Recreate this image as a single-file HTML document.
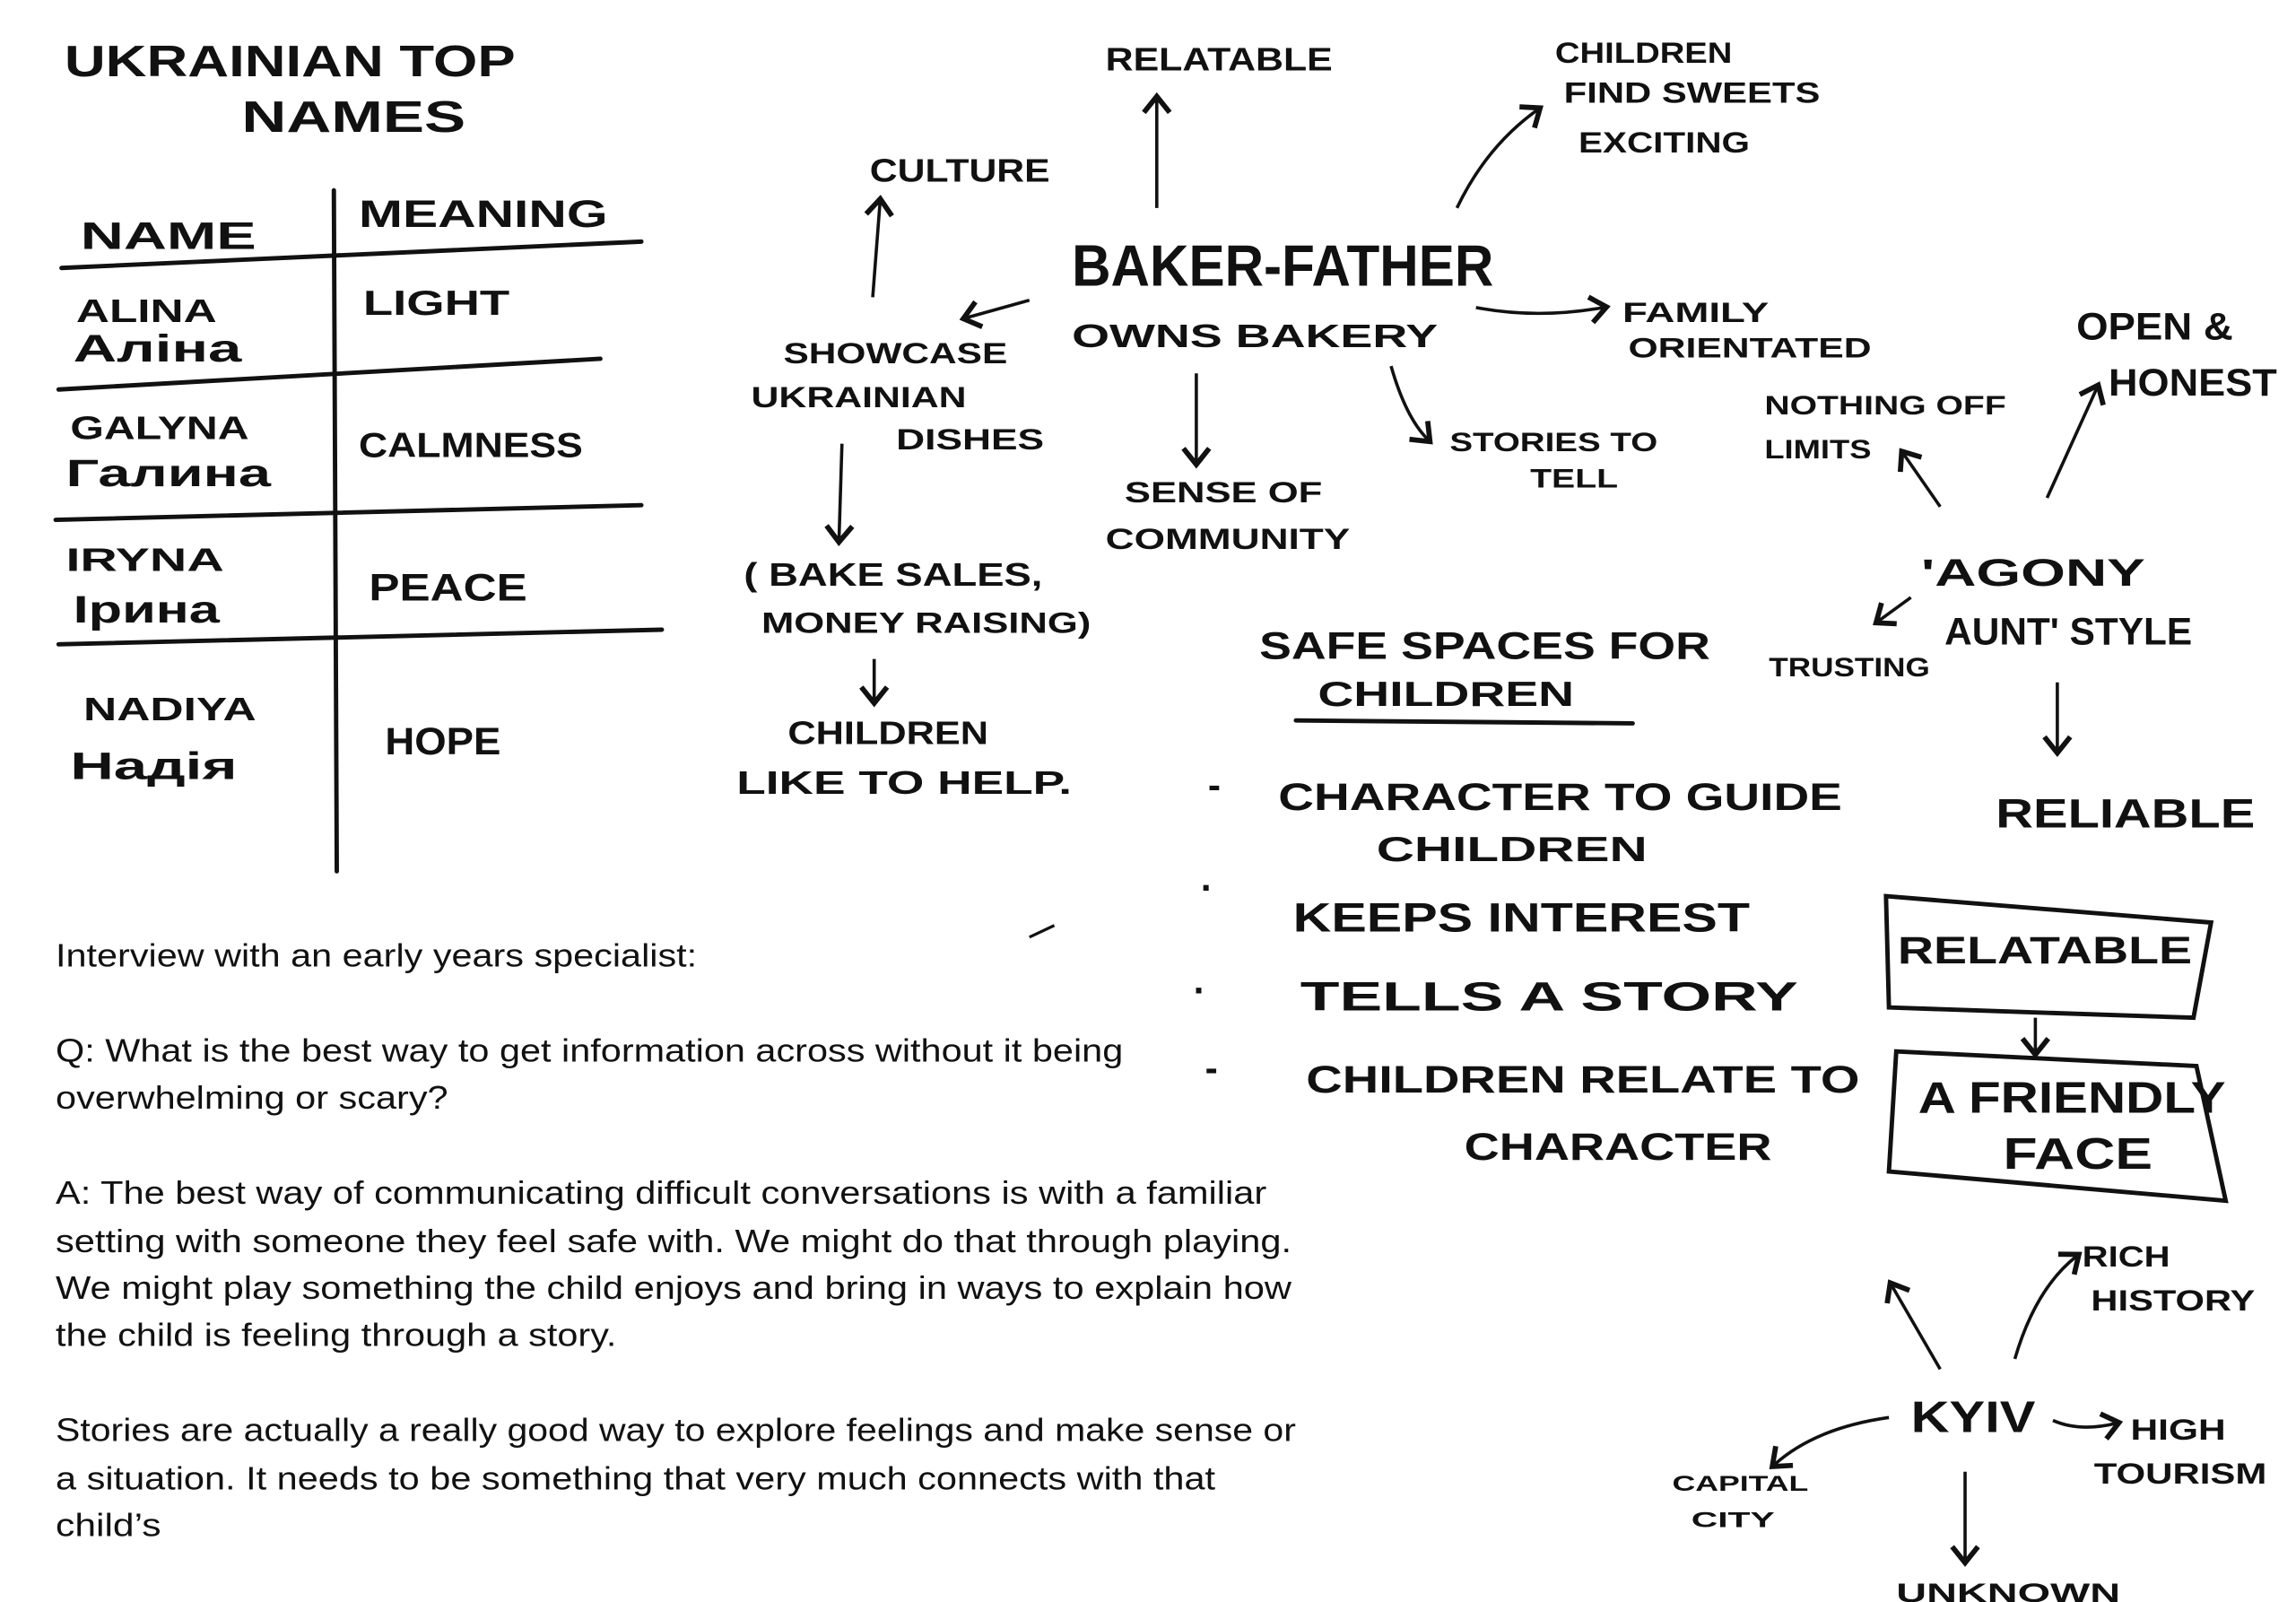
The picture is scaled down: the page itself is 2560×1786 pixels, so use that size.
<!DOCTYPE html>
<html><head><meta charset="utf-8"><style>
html,body{margin:0;padding:0;background:#fff;}
svg{display:block}
.h{font-family:"Liberation Sans","Noto Sans CJK SC",sans-serif;fill:#111;font-weight:bold}
.t{font-family:"Liberation Sans",sans-serif;fill:#111;font-size:22px}
</style></head><body>
<svg width="2560" height="1786" viewBox="0 0 1568 1094" preserveAspectRatio="none" xmlns="http://www.w3.org/2000/svg">
<defs><marker id="a" markerWidth="10" markerHeight="10" refX="5" refY="5" orient="auto"><path d="M1,1 L6,5 L1,9" fill="none" stroke="#111" stroke-width="1.6"/></marker></defs>
<rect width="1568" height="1094" fill="#fff"/>
<g stroke="#111" stroke-width="3" fill="none" stroke-linecap="round">
<line x1="42" y1="183" x2="438" y2="165"/>
<line x1="228" y1="130" x2="230" y2="595"/>
<line x1="40" y1="266" x2="410" y2="245"/>
<line x1="38" y1="355" x2="438" y2="345"/>
<line x1="40" y1="440" x2="452" y2="430"/>
<path d="M1288,612 L1510,630 L1498,695 L1290,688 Z"/>
<path d="M1295,718 L1500,728 L1520,820 L1290,800 Z"/>
<line x1="885" y1="492" x2="1115" y2="494"/>
</g>
<g stroke="#111" stroke-width="2.2" fill="none" marker-end="url(#a)">
<line x1="790" y1="142" x2="790" y2="68"/>
<line x1="596" y1="203" x2="601" y2="138"/>
<path d="M995,142 Q1015,100 1050,75"/>
<line x1="703" y1="205" x2="660" y2="217"/>
<path d="M1008,210 Q1050,218 1095,210"/>
<line x1="817" y1="255" x2="817" y2="315"/>
<path d="M950,250 Q960,285 975,300"/>
<line x1="575" y1="303" x2="573" y2="368"/>
<line x1="597" y1="450" x2="597" y2="478"/>
<line x1="1325" y1="346" x2="1300" y2="310"/>
<line x1="1398" y1="340" x2="1432" y2="265"/>
<line x1="1305" y1="408" x2="1283" y2="424"/>
<line x1="1405" y1="466" x2="1405" y2="512"/>
<line x1="1390" y1="695" x2="1390" y2="718"/>
<line x1="1325" y1="935" x2="1292" y2="878"/>
<path d="M1376,928 Q1390,880 1418,858"/>
<path d="M1290,968 Q1240,975 1212,1000"/>
<path d="M1402,970 Q1420,978 1445,972"/>
<line x1="1342" y1="1005" x2="1342" y2="1065"/>
</g>
<g stroke="#111" stroke-width="2"><line x1="703" y1="640" x2="720" y2="632"/></g>
<g class="h" lengthAdjust="spacingAndGlyphs">
<text x="44" y="52" font-size="30" textLength="308" lengthAdjust="spacingAndGlyphs">UKRAINIAN TOP</text>
<text x="165" y="90" font-size="30" textLength="153" lengthAdjust="spacingAndGlyphs">NAMES</text>
<text x="55" y="170" font-size="26" textLength="120" lengthAdjust="spacingAndGlyphs">NAME</text>
<text x="245" y="155" font-size="26" textLength="170" lengthAdjust="spacingAndGlyphs">MEANING</text>
<text x="52" y="220" font-size="22" textLength="96" lengthAdjust="spacingAndGlyphs">ALINA</text>
<text x="50" y="247" font-size="26" textLength="115" lengthAdjust="spacingAndGlyphs">Аліна</text>
<text x="248" y="215" font-size="24" textLength="100" lengthAdjust="spacingAndGlyphs">LIGHT</text>
<text x="48" y="300" font-size="22" textLength="122" lengthAdjust="spacingAndGlyphs">GALYNA</text>
<text x="45" y="332" font-size="26" textLength="140" lengthAdjust="spacingAndGlyphs">Галина</text>
<text x="245" y="312" font-size="24" textLength="153" lengthAdjust="spacingAndGlyphs">CALMNESS</text>
<text x="45" y="390" font-size="22" textLength="108" lengthAdjust="spacingAndGlyphs">IRYNA</text>
<text x="50" y="425" font-size="26" textLength="100" lengthAdjust="spacingAndGlyphs">Ірина</text>
<text x="252" y="410" font-size="26" textLength="108" lengthAdjust="spacingAndGlyphs">PEACE</text>
<text x="57" y="492" font-size="22" textLength="118" lengthAdjust="spacingAndGlyphs">NADIYA</text>
<text x="48" y="532" font-size="26" textLength="114" lengthAdjust="spacingAndGlyphs">Надія</text>
<text x="263" y="515" font-size="26" textLength="79" lengthAdjust="spacingAndGlyphs">HOPE</text>
<text x="755" y="48" font-size="22" textLength="155" lengthAdjust="spacingAndGlyphs">RELATABLE</text>
<text x="1062" y="43" font-size="20" textLength="121" lengthAdjust="spacingAndGlyphs">CHILDREN</text>
<text x="1068" y="70" font-size="20" textLength="175" lengthAdjust="spacingAndGlyphs">FIND SWEETS</text>
<text x="1078" y="104" font-size="20" textLength="117" lengthAdjust="spacingAndGlyphs">EXCITING</text>
<text x="594" y="124" font-size="22" textLength="123" lengthAdjust="spacingAndGlyphs">CULTURE</text>
<text x="732" y="195" font-size="40" textLength="288" lengthAdjust="spacingAndGlyphs">BAKER-FATHER</text>
<text x="732" y="237" font-size="22" textLength="250" lengthAdjust="spacingAndGlyphs">OWNS  BAKERY</text>
<text x="1108" y="220" font-size="19" textLength="100" lengthAdjust="spacingAndGlyphs">FAMILY</text>
<text x="1112" y="244" font-size="19" textLength="166" lengthAdjust="spacingAndGlyphs">ORIENTATED</text>
<text x="535" y="248" font-size="20" textLength="153" lengthAdjust="spacingAndGlyphs">SHOWCASE</text>
<text x="513" y="278" font-size="20" textLength="147" lengthAdjust="spacingAndGlyphs">UKRAINIAN</text>
<text x="612" y="307" font-size="20" textLength="101" lengthAdjust="spacingAndGlyphs">DISHES</text>
<text x="990" y="308" font-size="18" textLength="142" lengthAdjust="spacingAndGlyphs">STORIES TO</text>
<text x="1045" y="333" font-size="18" textLength="60" lengthAdjust="spacingAndGlyphs">TELL</text>
<text x="768" y="343" font-size="20" textLength="135" lengthAdjust="spacingAndGlyphs">SENSE OF</text>
<text x="755" y="375" font-size="20" textLength="167" lengthAdjust="spacingAndGlyphs">COMMUNITY</text>
<text x="1205" y="283" font-size="18" textLength="165" lengthAdjust="spacingAndGlyphs">NOTHING OFF</text>
<text x="1205" y="313" font-size="18" textLength="73" lengthAdjust="spacingAndGlyphs">LIMITS</text>
<text x="1418" y="232" font-size="26" textLength="107" lengthAdjust="spacingAndGlyphs">OPEN &amp;</text>
<text x="1440" y="270" font-size="26" textLength="115" lengthAdjust="spacingAndGlyphs">HONEST</text>
<text x="508" y="400" font-size="22" textLength="204" lengthAdjust="spacingAndGlyphs">( BAKE SALES,</text>
<text x="520" y="432" font-size="20" textLength="225" lengthAdjust="spacingAndGlyphs">MONEY RAISING)</text>
<text x="538" y="508" font-size="22" textLength="137" lengthAdjust="spacingAndGlyphs">CHILDREN</text>
<text x="503" y="542" font-size="22" textLength="229" lengthAdjust="spacingAndGlyphs">LIKE TO HELP.</text>
<text x="1312" y="400" font-size="26" textLength="153" lengthAdjust="spacingAndGlyphs">'AGONY</text>
<text x="1328" y="440" font-size="26" textLength="169" lengthAdjust="spacingAndGlyphs">AUNT' STYLE</text>
<text x="1208" y="462" font-size="18" textLength="110" lengthAdjust="spacingAndGlyphs">TRUSTING</text>
<text x="860" y="450" font-size="26" textLength="308" lengthAdjust="spacingAndGlyphs">SAFE SPACES FOR</text>
<text x="900" y="482" font-size="24" textLength="175" lengthAdjust="spacingAndGlyphs">CHILDREN</text>
<text x="825" y="545" font-size="26">-</text>
<text x="873" y="553" font-size="26" textLength="385" lengthAdjust="spacingAndGlyphs">CHARACTER TO GUIDE</text>
<text x="940" y="588" font-size="24" textLength="185" lengthAdjust="spacingAndGlyphs">CHILDREN</text>
<text x="1363" y="565" font-size="28" textLength="177" lengthAdjust="spacingAndGlyphs">RELIABLE</text>
<text x="820" y="615" font-size="26">·</text>
<text x="883" y="636" font-size="28" textLength="312" lengthAdjust="spacingAndGlyphs">KEEPS  INTEREST</text>
<text x="815" y="685" font-size="26">·</text>
<text x="888" y="690" font-size="28" textLength="340" lengthAdjust="spacingAndGlyphs">TELLS  A  STORY</text>
<text x="823" y="738" font-size="26">-</text>
<text x="892" y="746" font-size="26" textLength="378" lengthAdjust="spacingAndGlyphs">CHILDREN RELATE TO</text>
<text x="1000" y="792" font-size="26" textLength="210" lengthAdjust="spacingAndGlyphs">CHARACTER</text>
<text x="1296" y="658" font-size="26" textLength="201" lengthAdjust="spacingAndGlyphs">RELATABLE</text>
<text x="1310" y="760" font-size="30" textLength="210" lengthAdjust="spacingAndGlyphs">A FRIENDLY</text>
<text x="1368" y="798" font-size="30" textLength="102" lengthAdjust="spacingAndGlyphs">FACE</text>
<text x="1422" y="865" font-size="20" textLength="60" lengthAdjust="spacingAndGlyphs">RICH</text>
<text x="1428" y="895" font-size="20" textLength="112" lengthAdjust="spacingAndGlyphs">HISTORY</text>
<text x="1305" y="978" font-size="30" textLength="85" lengthAdjust="spacingAndGlyphs">KYIV</text>
<text x="1455" y="983" font-size="20" textLength="65" lengthAdjust="spacingAndGlyphs">HIGH</text>
<text x="1430" y="1013" font-size="20" textLength="118" lengthAdjust="spacingAndGlyphs">TOURISM</text>
<text x="1142" y="1018" font-size="15" textLength="93" lengthAdjust="spacingAndGlyphs">CAPITAL</text>
<text x="1155" y="1043" font-size="15" textLength="57" lengthAdjust="spacingAndGlyphs">CITY</text>
<text x="1295" y="1094" font-size="18" textLength="153" lengthAdjust="spacingAndGlyphs">UNKNOWN</text>
</g>
<g class="t">
<text x="38" y="660" textLength="438" lengthAdjust="spacingAndGlyphs">Interview with an early years specialist:</text>
<text x="38" y="725" textLength="729" lengthAdjust="spacingAndGlyphs">Q: What is the best way to get information across without it being</text>
<text x="38" y="757" textLength="268" lengthAdjust="spacingAndGlyphs">overwhelming or scary?</text>
<text x="38" y="822" textLength="827" lengthAdjust="spacingAndGlyphs">A: The best way of communicating difficult conversations is with a familiar</text>
<text x="38" y="855" textLength="844" lengthAdjust="spacingAndGlyphs">setting with someone they feel safe with. We might do that through playing.</text>
<text x="38" y="887" textLength="844" lengthAdjust="spacingAndGlyphs">We might play something the child enjoys and bring in ways to explain how</text>
<text x="38" y="919" textLength="383" lengthAdjust="spacingAndGlyphs">the child is feeling through a story.</text>
<text x="38" y="984" textLength="847" lengthAdjust="spacingAndGlyphs">Stories are actually a really good way to explore feelings and make sense or</text>
<text x="38" y="1017" textLength="792" lengthAdjust="spacingAndGlyphs">a situation. It needs to be something that very much connects with that</text>
<text x="38" y="1049" textLength="72" lengthAdjust="spacingAndGlyphs">child’s</text>
</g>
</svg>
</body></html>
